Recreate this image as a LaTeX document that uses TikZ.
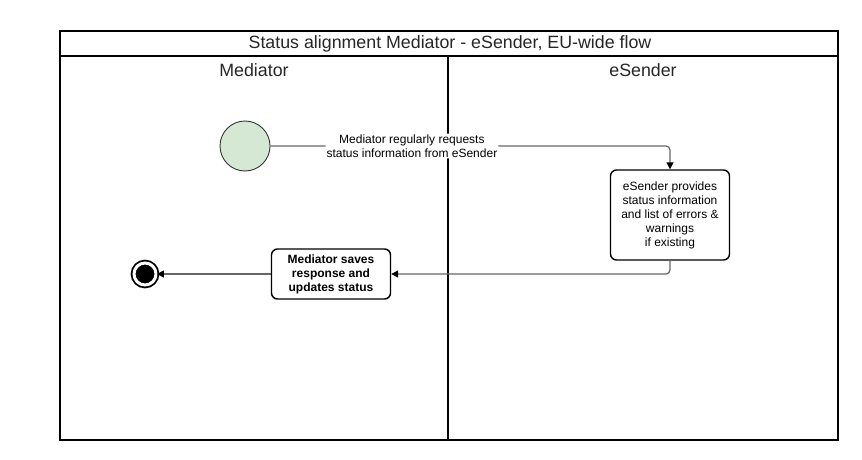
\documentclass[tikz,border=0pt]{standalone}
\usepackage{fontspec}
\setmainfont{Liberation Sans}
\usetikzlibrary{arrows.meta, positioning}

\definecolor{startgreen}{RGB}{213,232,212}
\definecolor{flowgray}{RGB}{102,102,102}

\tikzset{
    lanetext/.style={font=\fontsize{17.8}{20}\selectfont, text=black!85},
    startnode/.style={circle, draw=black!80, line width=0.9pt, fill=startgreen, minimum size=50pt, inner sep=0pt},
    endnode/.style={circle, draw=black, line width=1.8pt, fill=black, minimum size=22pt, inner sep=0pt, double=white, double distance=3pt},
    actbox/.style={draw=black, line width=1.4pt, rounded corners=6pt, fill=white, align=center, font=\fontsize{12}{14}\selectfont, inner sep=2pt},
    flow/.style={draw=flowgray, line width=1.2pt, rounded corners=4pt, -{Triangle[width=7pt,length=7pt,fill=black,color=black]}},
    flowlabel/.style={fill=white, align=center, font=\fontsize{12}{14}\selectfont, inner sep=1pt}
}

\begin{document}
\begin{tikzpicture}[x=1pt, y=-1pt]
    \useasboundingbox (0,0) rectangle (862,460);

    % pool and lanes
    \coordinate (TL) at (60,31);
    \coordinate (BR) at (838,440);
    \draw[line width=1.5pt] (TL) rectangle (BR);
    \draw[line width=1.5pt] (60,56) -- (838,56);
    \draw[line width=1.5pt] (448,56) -- (448,440);

    \node[lanetext] (title) at (450,43.5) {Status alignment Mediator - eSender, EU-wide flow};
    \node[lanetext] (mediator) at (254,70) {Mediator};
    \node[lanetext] (esender) at (643,70) {eSender};

    % activities
    \node[startnode] (start) at (245,146) {};
    \node[actbox, minimum width=119pt, minimum height=90pt] (provide) at (670,215)
        {eSender provides\\status information\\and list of errors \&\\warnings\\if existing};
    \node[actbox, minimum width=119pt, minimum height=50pt, font=\fontsize{12}{14}\selectfont\bfseries] (save) at (331,274)
        {Mediator saves\\response and\\updates status};
    \node[endnode] (end) at (145,274) {};

    % connectors
    \draw[flow] (start) -| (provide)
        node[flowlabel, pos=0.177] (request) {Mediator regularly requests\\status information from eSender};
    \draw[flow] (provide.south) |- (save.east);
    \draw[flow] (save) -- (end);
\end{tikzpicture}
\end{document}
